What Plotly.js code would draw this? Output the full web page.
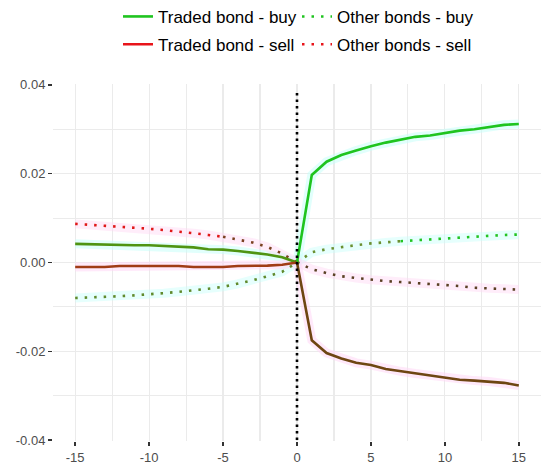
<!DOCTYPE html>
<html>
<head>
<meta charset="utf-8">
<script src="https://cdn.plot.ly/plotly-3.0.1.min.js"></script>
<style>
  html, body { margin: 0; padding: 0; background: #fff; }
  #chart { width: 550px; height: 473px; }
</style>
</head>
<body>
<div id="chart"></div>
<script>
// event time, -15 .. 15
var days = [-15,-14,-13,-12,-11,-10,-9,-8,-7,-6,-5,-4,-3,-2,-1,0,1,2,3,4,5,6,7,8,9,10,11,12,13,14,15];

var tradedBuy = [0.0042,0.0041,0.0041,0.0039,0.0039,0.0039,0.0037,0.0035,0.0034,0.0030,0.0029,0.0026,0.0022,0.0018,0.0012,
  0,
  0.0197,0.0227,0.0242,0.0252,0.0262,0.0270,0.0276,0.0283,0.0286,0.0292,0.0297,0.0300,0.0305,0.0310,0.0312];

var tradedSell = [-0.0010,-0.0010,-0.0010,-0.0008,-0.0008,-0.0008,-0.0008,-0.0008,-0.0010,-0.0010,-0.0010,-0.0008,-0.0008,-0.0007,-0.0005,
  0,
  -0.0175,-0.0204,-0.0216,-0.0226,-0.0231,-0.0240,-0.0245,-0.0250,-0.0255,-0.0260,-0.0264,-0.0266,-0.0268,-0.0271,-0.0277];

var otherBuy = [-0.0080,-0.0079,-0.0078,-0.0076,-0.0074,-0.0072,-0.0069,-0.0066,-0.0063,-0.0059,-0.0055,-0.0048,-0.0040,-0.0031,-0.0021,
  0,
  0.0023,0.0030,0.0035,0.0039,0.0043,0.0045,0.0048,0.0050,0.0052,0.0055,0.0057,0.0058,0.0060,0.0062,0.0063];

var otherSell = [0.0087,0.0085,0.0083,0.0081,0.0079,0.0076,0.0073,0.0070,0.0066,0.0062,0.0058,0.0052,0.0045,0.0035,0.0020,
  0,
  -0.0015,-0.0024,-0.0031,-0.0035,-0.0039,-0.0042,-0.0044,-0.0046,-0.0048,-0.0051,-0.0053,-0.0057,-0.0058,-0.0059,-0.0061];

var xTicks = [-15,-10,-5,0,5,10,15];
var xTickText = ['-15','-10','-5','0','5','10','15'];
var yTicks = [-0.04,-0.02,0.00,0.02,0.04];
var yTickText = ['-0.04','-0.02','0.00','0.02','0.04'];

var GREEN = '#1fc41f', RED = '#e8141a';

// piece of a series between two x values (inclusive)
function seg(ys, from, to){
  var xs = [], out = [];
  for (var i = 0; i < days.length; i++){
    if (days[i] >= from && days[i] <= to){ xs.push(days[i]); out.push(ys[i]); }
  }
  return {x: xs, y: out};
}

function piece(ys, from, to, color, dash){
  var s = seg(ys, from, to);
  return {x: s.x, y: s.y, type: 'scatter', mode: 'lines', showlegend: false, hoverinfo: 'skip',
    line: {color: color, width: 2.6, dash: dash || 'solid'}};
}

function band(ys, color){
  return {x: days, y: ys, type: 'scatter', mode: 'lines', showlegend: false, hoverinfo: 'skip',
    line: {color: color, width: 9}};
}

var DOT = '2.5px,7px';

var data = [
  // faint bands
  band(tradedBuy, 'rgba(200,255,250,0.55)'),
  band(otherBuy, 'rgba(200,255,250,0.45)'),
  band(tradedSell, 'rgba(255,215,245,0.55)'),
  band(otherSell, 'rgba(255,215,245,0.45)'),

  piece(otherSell, -15, -5, '#e01818', DOT),
  piece(otherSell, -5, 0, '#7a4020', DOT),
  piece(otherSell, 0, 15, '#5a4024', DOT),

  piece(otherBuy, -15, 0, '#5f8a2c', DOT),
  piece(otherBuy, 0, 7, '#6a9030', DOT),
  piece(otherBuy, 7, 15, '#22c422', DOT),

  piece(tradedBuy, -15, 0, '#4f9412'),
  piece(tradedBuy, 0, 15, GREEN),

  piece(tradedSell, -15, 0, '#a03c16'),
  piece(tradedSell, 0, 15, '#6e4612'),

  // legend entries
  {x: [null], y: [null], type: 'scatter', mode: 'lines', name: 'Traded bond - buy', legend: 'legend',
    line: {color: GREEN, width: 2.6}},
  {x: [null], y: [null], type: 'scatter', mode: 'lines', name: 'Other bonds - buy', legend: 'legend',
    line: {color: GREEN, width: 2.6, dash: DOT}},
  {x: [null], y: [null], type: 'scatter', mode: 'lines', name: 'Traded bond - sell', legend: 'legend2',
    line: {color: RED, width: 2.6}},
  {x: [null], y: [null], type: 'scatter', mode: 'lines', name: 'Other bonds - sell', legend: 'legend2',
    line: {color: RED, width: 2.6, dash: DOT}}
];

var legendBase = {
  orientation: 'h', xanchor: 'center', yanchor: 'middle', x: 0.5,
  font: {family: 'Liberation Sans, Arial, sans-serif', size: 17, color: '#000'},
  itemwidth: 30, entrywidth: 134, entrywidthmode: 'pixels',
  bgcolor: 'rgba(0,0,0,0)', traceorder: 'normal'
};

var layout = {
  width: 550, height: 473,
  margin: {l: 53, r: 9, t: 84, b: 32, autoexpand: false},
  paper_bgcolor: '#fff', plot_bgcolor: '#fff',
  font: {family: 'Liberation Sans, Arial, sans-serif', size: 13, color: '#4d4d4d'},
  showlegend: true,
  legend: Object.assign({}, legendBase, {y: 1.188}),
  legend2: Object.assign({}, legendBase, {y: 1.11}),
  xaxis: {
    range: [-16.5, 16.5], tickvals: xTicks, ticktext: xTickText, ticks: 'outside', ticklen: 4, tickwidth: 1.5, tickcolor: '#333',
    showgrid: true, gridcolor: '#ebebeb', gridwidth: 1.2, zeroline: false, showline: false,
    minor: {dtick: 5, tick0: 2.5, showgrid: true, gridcolor: '#ebebeb', gridwidth: 1.1},
    tickfont: {size: 13, color: '#4d4d4d'}
  },
  yaxis: {
    range: [-0.0402, 0.0402], tickvals: yTicks, ticktext: yTickText, ticks: 'outside', ticklen: 4, tickwidth: 1.5, tickcolor: '#333',
    showgrid: true, gridcolor: '#ebebeb', gridwidth: 1.2, zeroline: false, showline: false,
    minor: {dtick: 0.02, tick0: 0.01, showgrid: true, gridcolor: '#ebebeb', gridwidth: 1.1},
    tickfont: {size: 13, color: '#4d4d4d'}
  },
  shapes: [
    {type: 'line', xref: 'x', yref: 'y', x0: 0, x1: 0, y0: -0.04, y1: 0.039,
      line: {color: '#000', width: 2.6, dash: '2.5px,4px'}, layer: 'above'}
  ]
};

Plotly.newPlot('chart', data, layout, {displayModeBar: false, staticPlot: true});
</script>
</body>
</html>
